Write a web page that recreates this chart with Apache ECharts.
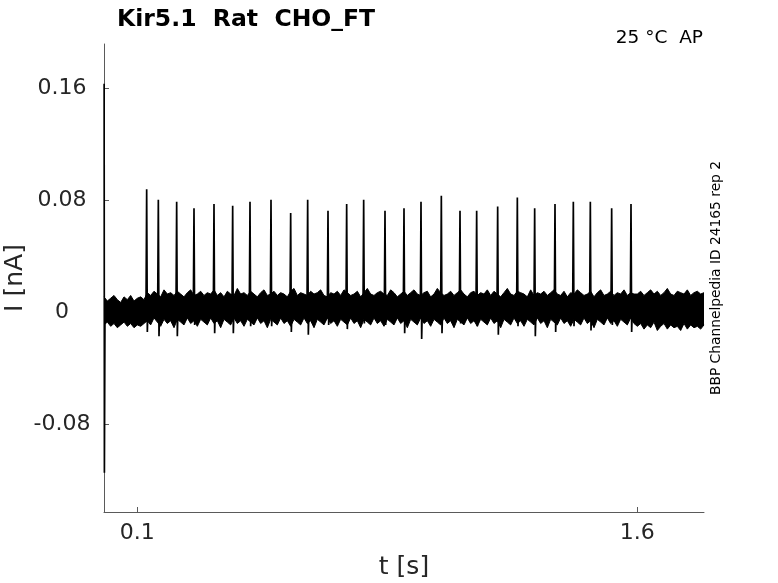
<!DOCTYPE html>
<html>
<head>
<meta charset="utf-8">
<script src="https://cdn.jsdelivr.net/npm/echarts@6/dist/echarts.min.js"></script>
<style>html,body{margin:0;padding:0;background:#fff}#c{width:778px;height:583px}</style>
</head>
<body>
<div id="c"></div>
<script>
// time step of the noise envelope (s)
var envStep = 0.01;
// upper edge of the noise band, in 1e-3 nA, t = 0 .. 1.80
var upperEnv = [11,8,10,12,9,7,11,9,12,8,10,11,9,
14,12,15,13,11,16,13,14,12,15,
13,11,14,16,12,13,15,12,14,13,
16,12,14,11,15,13,12,17,13,14,
12,15,13,11,14,16,12,13,15,12,
14,13,11,15,17,12,14,13,12,15,
13,14,16,12,11,14,13,15,12,16,
14,12,13,15,11,14,17,13,12,14,
15,13,12,16,14,11,13,15,12,14,
16,13,12,14,15,11,13,17,14,12,
13,15,12,14,16,13,11,14,15,12,
14,13,16,12,15,13,11,14,17,13,
12,15,14,13,11,16,12,14,13,15,
12,14,16,13,12,15,11,14,13,16,
14,12,13,15,11,14,16,12,13,15,
12,14,13,16,12,14,13,
13,15,12,14,16,13,15,12,14,17,13,12,15,14,13,16,12,14,15,13,14];
// lower edge of the noise band, in 1e-3 nA
var lowerEnv = [-9,-7,-10,-8,-11,-9,-7,-10,-8,-11,-9,-10,-8,
-6,-9,-4,-7,-10,-5,-8,-6,-11,-5,
-7,-9,-4,-8,-6,-10,-5,-7,-9,-4,
-8,-6,-11,-5,-7,-9,-4,-8,-6,-10,
-5,-7,-9,-4,-8,-6,-11,-5,-7,-9,
-4,-8,-6,-10,-5,-7,-9,-4,-8,-6,
-11,-5,-7,-9,-4,-8,-6,-10,-5,-7,
-9,-4,-8,-6,-11,-5,-7,-9,-4,-8,
-6,-10,-5,-7,-9,-4,-8,-6,-11,-5,
-7,-9,-4,-8,-6,-10,-5,-7,-9,-4,
-8,-6,-11,-5,-7,-9,-4,-8,-6,-10,
-5,-7,-9,-4,-8,-6,-11,-5,-7,-9,
-4,-8,-6,-10,-5,-7,-9,-4,-8,-6,
-11,-5,-7,-9,-4,-8,-6,-10,-5,-7,
-9,-4,-8,-6,-11,-5,-7,-9,-4,-8,
-6,-10,-5,-7,-9,-4,-8,
-10,-8,-12,-9,-11,-7,-13,-10,-8,-12,-9,-11,-10,-13,-8,-12,-9,-11,-10,-12,-9];
// action-potential current spikes
var spikeTimes = [0.128,0.163,0.218,0.270,0.330,0.386,0.438,0.501,0.560,0.611,0.672,0.728,0.779,0.843,0.900,0.951,1.012,1.068,1.118,1.181,1.240,1.292,1.353,1.408,1.459,1.523,1.581];
var spikePeaks = [0.0878,0.0802,0.0788,0.0741,0.0772,0.0760,0.0788,0.0802,0.0708,0.0802,0.0724,0.0772,0.0802,0.0724,0.0741,0.0788,0.0831,0.0724,0.0724,0.0755,0.0819,0.0741,0.0772,0.0788,0.0788,0.0741,0.0772];
var spikeDips = [-0.014,-0.017,-0.017,-0.009,-0.015,-0.015,-0.010,-0.010,-0.014,-0.016,-0.009,-0.012,-0.008,-0.009,-0.015,-0.019,-0.015,-0.008,-0.010,-0.016,-0.010,-0.017,-0.014,-0.010,-0.013,-0.009,-0.014];
// initial capacitive transient at t = 0
var transientTimes = [0.0004,0.0012,0.003];
var transientValues = [0.163,-0.1145,0.002];
var xTicks = [0.1, 1.6];
var yTicks = [-0.08, 0, 0.08, 0.16];

var upperData = upperEnv.map(function(v,i){return [i*envStep, v/1000];});
var lowerData = lowerEnv.map(function(v,i){return [i*envStep, v/1000];});
var traceData = [];
transientTimes.forEach(function(t,i){traceData.push([t, transientValues[i]]);});
spikeTimes.forEach(function(t,i){
  traceData.push([t-0.002, 0.003]);
  traceData.push([t, spikePeaks[i]]);
  traceData.push([t+0.002, spikeDips[i]]);
  traceData.push([t+0.004, 0.003]);
});

var FONT = 'DejaVu Sans';
var chart = echarts.init(document.getElementById('c'), null, {renderer:'canvas'});
chart.setOption({
  animation:false,
  backgroundColor:'#fff',
  title:{text:'Kir5.1  Rat  CHO_FT', left:112, top:3,
    textStyle:{fontFamily:FONT, fontSize:23.5, fontWeight:'bold', color:'#000'}},
  grid:{left:104, right:74, top:44, bottom:71, containLabel:false, outerBoundsMode:'none'},
  xAxis:{type:'value', min:0, max:1.8,
    name:'t [s]', nameLocation:'middle', nameGap:43, nameMoveOverlap:false,
    nameTextStyle:{fontFamily:FONT, fontSize:25, color:'#262626'},
    axisLine:{show:true, onZero:false, lineStyle:{color:'#5a5a5a', width:1}},
    axisTick:{show:true, inside:true, length:5, customValues:xTicks, lineStyle:{color:'#5a5a5a'}},
    axisLabel:{customValues:xTicks, margin:10, fontFamily:FONT, fontSize:22, color:'#262626',
      formatter:function(v){return String(v);}},
    splitLine:{show:false}},
  yAxis:{type:'value', min:-0.1424, max:0.1913,
    name:'I [nA]', nameLocation:'middle', nameGap:76, nameRotate:90, nameMoveOverlap:false,
    nameTextStyle:{fontFamily:FONT, fontSize:25, color:'#262626'},
    axisLine:{show:true, onZero:false, lineStyle:{color:'#5a5a5a', width:1}},
    axisTick:{show:true, inside:true, length:5, customValues:yTicks, lineStyle:{color:'#5a5a5a'}},
    axisLabel:{customValues:yTicks, margin:42, align:'center', fontFamily:FONT, fontSize:22, color:'#262626',
      formatter:function(v){return String(v);}},
    splitLine:{show:false}},
  graphic:[
    {type:'text', right:75, top:29, style:{text:'25 °C  AP', fontFamily:FONT, fontSize:18.5, fill:'#000'}},
    {type:'text', x:716, y:278, rotation:Math.PI/2,
      style:{text:'BBP Channelpedia ID 24165 rep 2', fontFamily:FONT, fontSize:13.8, fill:'#000', align:'center', verticalAlign:'middle'}}
  ],
  series:[
    {type:'line', data:upperData, showSymbol:false, symbol:'none',
      lineStyle:{color:'#000', width:1}, areaStyle:{color:'#000', opacity:1, origin:-0.004}, z:2},
    {type:'line', data:lowerData, showSymbol:false, symbol:'none',
      lineStyle:{color:'#000', width:1}, areaStyle:{color:'#000', opacity:1, origin:0.004}, z:2},
    {type:'line', data:traceData, showSymbol:false, symbol:'none',
      lineStyle:{color:'#000', width:1.7}, z:3}
  ]
});
</script>
</body>
</html>
